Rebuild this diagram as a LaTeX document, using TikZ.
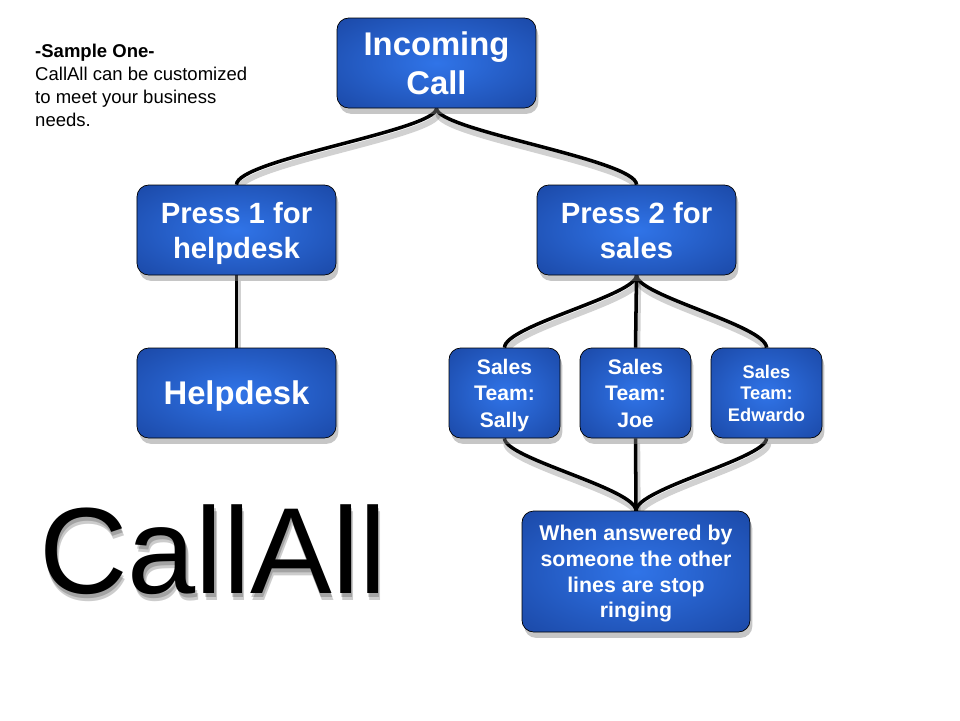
\documentclass[tikz,border=0pt]{standalone}
\usepackage{fontspec}
\setmainfont{Liberation Sans}
\usetikzlibrary{shadows,backgrounds}
\definecolor{glowblue}{RGB}{48,116,232}
\definecolor{edgeblue}{RGB}{20,58,145}
\pgfdeclareradialshading{boxglow}{\pgfpointorigin}{color(0bp)=(glowblue); color(48bp)=(edgeblue)}

\begin{document}
\begin{tikzpicture}[x=0.03cm,y=-0.03cm,
    box/.style={draw=black, line width=0.6pt, rounded corners=10pt, shading=boxglow,
      text=white, align=center, inner sep=2pt, text depth=0pt, minimum width=5.97cm, minimum height=2.7cm,
      drop shadow={shadow xshift=2pt, shadow yshift=-5pt, opacity=0.45}},
    salesbox/.style={box, minimum width=3.33cm, font=\bfseries\fontsize{18}{22.5}\selectfont},
    logotext/.style={anchor=base west, inner sep=0, font=\fontsize{104.6}{110}\selectfont},
    wire/.style={line width=3pt,
      preaction={draw=black, opacity=0.18, line width=5pt, transform canvas={shift={(1.5pt,-4.5pt)}}}}]
            \useasboundingbox (0,0) rectangle (960,720);
            \node[anchor=north west, inner sep=0, align=left, font=\fontsize{15.8}{19.6}\selectfont] (intro) at (35,44)
                {\textbf{-Sample One-}\\CallAll can be customized\\to meet your business\\needs.};
            \foreach \s in {4,7}
                \node[logotext, text=black, text opacity=0.2] (logoshadow\s) at (39+\s/3,593+\s) {CallAll};
            \node[logotext] (logo) at (39,593) {CallAll};
            \node[box, font=\bfseries\fontsize{28}{33}\selectfont] (call) at (436.5,63) {Incoming\\Call};
            \node[box, font=\bfseries\fontsize{25}{30}\selectfont] (press1) at (236.5,230) {Press 1 for\\helpdesk};
            \node[box, font=\bfseries\fontsize{25}{30}\selectfont] (press2) at (636.5,230) {Press 2 for\\sales};
            \node[box, font=\bfseries\fontsize{28}{33}\selectfont] (helpdesk) at (236.5,393) {Helpdesk};
            \node[salesbox] (sally) at (504.5,393) {Sales\\Team:\\Sally};
            \node[salesbox] (joe) at (635.5,393) {Sales\\Team:\\Joe};
            \node[salesbox, font=\bfseries\fontsize{15.6}{18.4}\selectfont] (edwardo) at (766.5,393) {Sales\\Team:\\Edwardo};
            \node[box, minimum width=6.84cm, minimum height=3.63cm, font=\bfseries\fontsize{18.2}{22}\selectfont] (answered) at (636,571.5)
                {When answered by\\someone the other\\lines are stop\\ringing};
            \begin{scope}[on background layer]
            \draw[wire] (call.south) .. controls +(0,22) and +(0,-25) .. (press1.north);
            \draw[wire] (call.south) .. controls +(0,22) and +(0,-25) .. (press2.north);
            \draw[wire] (press1.south) -- (helpdesk.north);
            \draw[wire] (press2.south) .. controls +(0,20) and +(0,-22) .. (sally.north);
            \draw[wire] (press2.south) -- (joe.north);
            \draw[wire] (press2.south) .. controls +(0,20) and +(0,-22) .. (edwardo.north);
            \draw[wire] (sally.south) .. controls +(0,20) and +(0,-22) .. (answered.north);
            \draw[wire] (joe.south) -- (answered.north);
            \draw[wire] (edwardo.south) .. controls +(0,20) and +(0,-22) .. (answered.north);
            \end{scope}
        \end{tikzpicture}
\end{document}
